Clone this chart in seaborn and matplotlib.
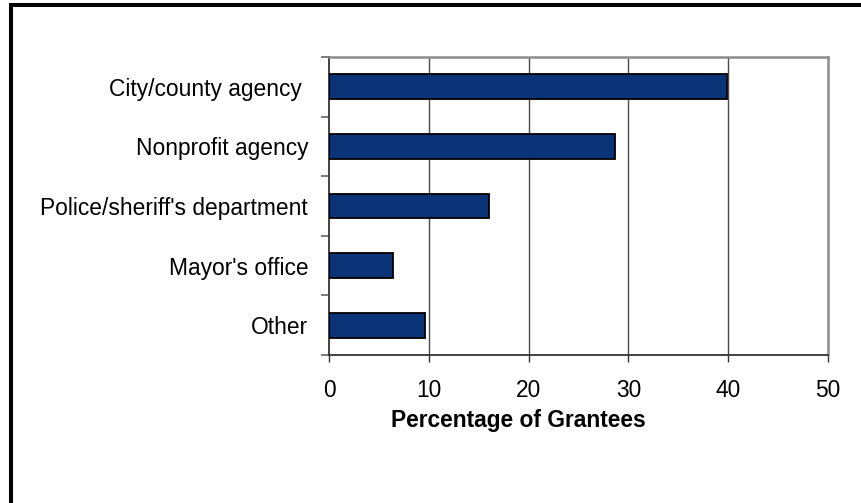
import matplotlib
matplotlib.use("Agg")
import matplotlib.pyplot as plt
from matplotlib.lines import Line2D
from matplotlib.ticker import FixedLocator
import seaborn as sns
import pandas as pd

categories = ["City/county agency ", "Nonprofit agency", "Police/sheriff's department",
              "Mayor's office", "Other"]
values = [39.9, 28.7, 16.0, 6.4, 9.6]
x_ticks = [0, 10, 20, 30, 40, 50]
x_label = "Percentage of Grantees"

df = pd.DataFrame({"category": categories, "value": values})

sns.set_theme(style="white")
plt.rcParams["font.family"] = ["Liberation Sans", "DejaVu Sans"]

FS = 16.4

fig = plt.figure(figsize=(8.62, 5.03), dpi=100)
ax = fig.add_axes([329 / 862, 1 - 355 / 503, (828 - 329) / 862, (355 - 57) / 503])

sns.barplot(data=df, x="value", y="category", orient="h", ax=ax,
            color="#0B3378", saturation=1, width=0.415,
            edgecolor="black", linewidth=1.3, zorder=3)

ax.set_xlim(0, 50)
ax.set_ylim(len(categories) - 0.5, -0.5)
ax.set_xticks(x_ticks)
ax.set_xticklabels([str(t) for t in x_ticks])

for t in x_ticks[1:-1]:
    ax.axvline(t, color="#4a4a4a", lw=1.0, zorder=1)

ax.yaxis.set_minor_locator(FixedLocator([i - 0.5 for i in range(len(categories) + 1)]))
ax.tick_params(axis="y", which="major", length=0, pad=15, labelsize=FS, labelcolor="black")
ax.tick_params(axis="y", which="minor", length=5.5, width=1.2, color="#666666", direction="out", left=True)
ax.tick_params(axis="x", which="major", length=5, width=1.0, color="#333333", direction="out",
               pad=12, labelsize=FS, labelcolor="black", bottom=True)

for s in ["left", "bottom"]:
    ax.spines[s].set_color("#333333")
    ax.spines[s].set_linewidth(1.3)
for s in ["top", "right"]:
    ax.spines[s].set_color("#8c8c8c")
    ax.spines[s].set_linewidth(1.8)

ax.set_ylabel("")
ax.set_xlabel(x_label, fontsize=FS, fontweight="bold", color="black")
ax.xaxis.set_label_coords(0.38, -0.2426)
ax.xaxis.label.set_va("baseline")

# outer frame (top and left edges)
fig.add_artist(Line2D([10.5 / 100, 10.5 / 100, 8.7], [0, 497.7 / 100, 497.7 / 100],
                      transform=fig.dpi_scale_trans, color="black", lw=2.9,
                      solid_joinstyle="miter", solid_capstyle="butt"))

fig.savefig("out.png", dpi=100)
